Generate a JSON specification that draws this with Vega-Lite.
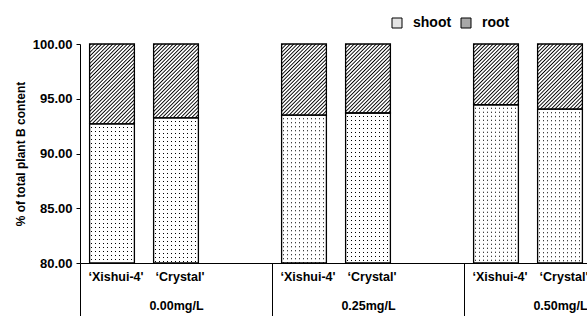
{
  "$schema": "https://vega.github.io/schema/vega-lite/v6.json",
  "width": 507,
  "height": 219,
  "autosize": {"type": "none"},
  "padding": {"left": 80, "top": 44, "right": 0, "bottom": 53},
  "background": "white",
  "config": {"view": {"stroke": null}, "font": "Liberation Sans"},
  "data": {"values": [
    {"dose": "0.00mg/L", "cultivar": "‘Xishui-4'", "shoot": 92.7, "root": 7.3},
    {"dose": "0.00mg/L", "cultivar": "‘Crystal'", "shoot": 93.25, "root": 6.75},
    {"dose": "0.25mg/L", "cultivar": "‘Xishui-4'", "shoot": 93.5, "root": 6.5},
    {"dose": "0.25mg/L", "cultivar": "‘Crystal'", "shoot": 93.7, "root": 6.3},
    {"dose": "0.50mg/L", "cultivar": "‘Xishui-4'", "shoot": 94.45, "root": 5.55},
    {"dose": "0.50mg/L", "cultivar": "‘Crystal'", "shoot": 94.05, "root": 5.95}
  ]},
  "encoding": {
    "x": {
      "field": "dose", "type": "nominal",
      "scale": {"domain": ["0.00mg/L", "0.25mg/L", "0.50mg/L"], "range": [0, 576], "paddingInner": 0, "paddingOuter": 0},
      "axis": {"title": null, "tickBand": "extent", "tickSize": 53, "tickColor": "black", "tickWidth": 1, "domainColor": "black", "domainWidth": 1, "labelPadding": -17, "labelAngle": 0, "labelFont": "Liberation Sans", "labelFontSize": 12.5, "labelFontWeight": "bold", "labelColor": "black", "grid": false}
    },
    "xOffset": {
      "field": "cultivar", "type": "nominal",
      "scale": {"domain": ["‘Xishui-4'", "‘Crystal'", "-"], "paddingInner": 0.3, "paddingOuter": 0.15}
    }
  },
  "layer": [
    {
      "mark": {"type": "bar"},
      "encoding": {
        "y": {
          "field": "shoot", "type": "quantitative",
          "scale": {"domain": [80, 100], "zero": false, "nice": false},
          "axis": {"values": [80, 85, 90, 95, 100], "format": ".2f", "title": "% of total plant B content", "titleFont": "Liberation Sans", "titleFontSize": 12, "titleFontWeight": "bold", "titleColor": "black", "titlePadding": 5, "labelFont": "Liberation Sans", "labelFontSize": 13, "labelFontWeight": "bold", "labelColor": "black", "labelPadding": 4, "tickSize": 4, "tickColor": "black", "domainColor": "black", "grid": false}
        },
        "y2": {"datum": 80},
        "fill": {
          "datum": "shoot", "type": "nominal",
          "scale": {"domain": ["shoot", "root"], "range": ["#e4e4e4", "#a8a8a8"]},
          "legend": {"orient": "none", "legendX": 310, "legendY": -28, "direction": "horizontal", "title": null, "symbolType": "square", "symbolSize": 100, "symbolStrokeColor": "black", "symbolStrokeWidth": 1, "labelFont": "Liberation Sans", "labelFontSize": 14, "labelFontWeight": "bold", "labelColor": "black", "labelOffset": 9, "columnPadding": 7}
        }
      }
    },
    {
      "mark": {"type": "bar"},
      "encoding": {
        "y": {"field": "shoot", "type": "quantitative"},
        "y2": {"datum": 80},
        "fill": {"datum": "root", "type": "nominal"}
      }
    },
    {
      "mark": {"type": "bar", "fill": {"gradient": "linear", "x1": 0, "y1": 0, "x2": 0.6153, "y2": 1.1977, "stops": [
        {"offset": 0, "color": "#fff"}, {"offset": 0.0097, "color": "#000"}, {"offset": 0.0194, "color": "#fff"},
        {"offset": 0.0278, "color": "#fff"}, {"offset": 0.0375, "color": "#000"}, {"offset": 0.0472, "color": "#fff"},
        {"offset": 0.0556, "color": "#fff"}, {"offset": 0.0653, "color": "#000"}, {"offset": 0.075, "color": "#fff"},
        {"offset": 0.0833, "color": "#fff"}, {"offset": 0.0931, "color": "#000"}, {"offset": 0.1028, "color": "#fff"},
        {"offset": 0.1111, "color": "#fff"}, {"offset": 0.1208, "color": "#000"}, {"offset": 0.1306, "color": "#fff"},
        {"offset": 0.1389, "color": "#fff"}, {"offset": 0.1486, "color": "#000"}, {"offset": 0.1583, "color": "#fff"},
        {"offset": 0.1667, "color": "#fff"}, {"offset": 0.1764, "color": "#000"}, {"offset": 0.1861, "color": "#fff"},
        {"offset": 0.1944, "color": "#fff"}, {"offset": 0.2042, "color": "#000"}, {"offset": 0.2139, "color": "#fff"},
        {"offset": 0.2222, "color": "#fff"}, {"offset": 0.2319, "color": "#000"}, {"offset": 0.2417, "color": "#fff"},
        {"offset": 0.25, "color": "#fff"}, {"offset": 0.2597, "color": "#000"}, {"offset": 0.2694, "color": "#fff"},
        {"offset": 0.2778, "color": "#fff"}, {"offset": 0.2875, "color": "#000"}, {"offset": 0.2972, "color": "#fff"},
        {"offset": 0.3056, "color": "#fff"}, {"offset": 0.3153, "color": "#000"}, {"offset": 0.325, "color": "#fff"},
        {"offset": 0.3333, "color": "#fff"}, {"offset": 0.3431, "color": "#000"}, {"offset": 0.3528, "color": "#fff"},
        {"offset": 0.3611, "color": "#fff"}, {"offset": 0.3708, "color": "#000"}, {"offset": 0.3806, "color": "#fff"},
        {"offset": 0.3889, "color": "#fff"}, {"offset": 0.3986, "color": "#000"}, {"offset": 0.4083, "color": "#fff"},
        {"offset": 0.4167, "color": "#fff"}, {"offset": 0.4264, "color": "#000"}, {"offset": 0.4361, "color": "#fff"},
        {"offset": 0.4444, "color": "#fff"}, {"offset": 0.4542, "color": "#000"}, {"offset": 0.4639, "color": "#fff"},
        {"offset": 0.4722, "color": "#fff"}, {"offset": 0.4819, "color": "#000"}, {"offset": 0.4917, "color": "#fff"},
        {"offset": 0.5, "color": "#fff"}, {"offset": 0.5097, "color": "#000"}, {"offset": 0.5194, "color": "#fff"},
        {"offset": 0.5278, "color": "#fff"}, {"offset": 0.5375, "color": "#000"}, {"offset": 0.5472, "color": "#fff"},
        {"offset": 0.5556, "color": "#fff"}, {"offset": 0.5653, "color": "#000"}, {"offset": 0.575, "color": "#fff"},
        {"offset": 0.5833, "color": "#fff"}, {"offset": 0.5931, "color": "#000"}, {"offset": 0.6028, "color": "#fff"},
        {"offset": 0.6111, "color": "#fff"}, {"offset": 0.6208, "color": "#000"}, {"offset": 0.6306, "color": "#fff"},
        {"offset": 0.6389, "color": "#fff"}, {"offset": 0.6486, "color": "#000"}, {"offset": 0.6583, "color": "#fff"},
        {"offset": 0.6667, "color": "#fff"}, {"offset": 0.6764, "color": "#000"}, {"offset": 0.6861, "color": "#fff"},
        {"offset": 0.6944, "color": "#fff"}, {"offset": 0.7042, "color": "#000"}, {"offset": 0.7139, "color": "#fff"},
        {"offset": 0.7222, "color": "#fff"}, {"offset": 0.7319, "color": "#000"}, {"offset": 0.7417, "color": "#fff"},
        {"offset": 0.75, "color": "#fff"}, {"offset": 0.7597, "color": "#000"}, {"offset": 0.7694, "color": "#fff"},
        {"offset": 0.7778, "color": "#fff"}, {"offset": 0.7875, "color": "#000"}, {"offset": 0.7972, "color": "#fff"},
        {"offset": 0.8056, "color": "#fff"}, {"offset": 0.8153, "color": "#000"}, {"offset": 0.825, "color": "#fff"},
        {"offset": 0.8333, "color": "#fff"}, {"offset": 0.8431, "color": "#000"}, {"offset": 0.8528, "color": "#fff"},
        {"offset": 0.8611, "color": "#fff"}, {"offset": 0.8708, "color": "#000"}, {"offset": 0.8806, "color": "#fff"},
        {"offset": 0.8889, "color": "#fff"}, {"offset": 0.8986, "color": "#000"}, {"offset": 0.9083, "color": "#fff"},
        {"offset": 0.9167, "color": "#fff"}, {"offset": 0.9264, "color": "#000"}, {"offset": 0.9361, "color": "#fff"},
        {"offset": 0.9444, "color": "#fff"}, {"offset": 0.9542, "color": "#000"}, {"offset": 0.9639, "color": "#fff"},
        {"offset": 0.9722, "color": "#fff"}, {"offset": 0.9819, "color": "#000"}, {"offset": 0.9917, "color": "#fff"},
        {"offset": 1, "color": "#fff"}
      ]}},
      "encoding": {
        "y": {"datum": 100, "type": "quantitative"},
        "y2": {"datum": 92}
      }
    },
    {
      "mark": {"type": "bar", "fill": {"gradient": "linear", "x1": 0, "y1": 0, "x2": 1, "y2": 0, "stops": [
        {"offset": 0, "color": "#fff"},
        {"offset": 0.0246, "color": "#fff"}, {"offset": 0.0406, "color": "#000"}, {"offset": 0.0486, "color": "#000"}, {"offset": 0.0646, "color": "#fff"},
        {"offset": 0.1139, "color": "#fff"}, {"offset": 0.1299, "color": "#000"}, {"offset": 0.1379, "color": "#000"}, {"offset": 0.1539, "color": "#fff"},
        {"offset": 0.2032, "color": "#fff"}, {"offset": 0.2192, "color": "#000"}, {"offset": 0.2272, "color": "#000"}, {"offset": 0.2432, "color": "#fff"},
        {"offset": 0.2925, "color": "#fff"}, {"offset": 0.3085, "color": "#000"}, {"offset": 0.3165, "color": "#000"}, {"offset": 0.3325, "color": "#fff"},
        {"offset": 0.3818, "color": "#fff"}, {"offset": 0.3978, "color": "#000"}, {"offset": 0.4058, "color": "#000"}, {"offset": 0.4218, "color": "#fff"},
        {"offset": 0.4711, "color": "#fff"}, {"offset": 0.4871, "color": "#000"}, {"offset": 0.4951, "color": "#000"}, {"offset": 0.5111, "color": "#fff"},
        {"offset": 0.5604, "color": "#fff"}, {"offset": 0.5764, "color": "#000"}, {"offset": 0.5844, "color": "#000"}, {"offset": 0.6004, "color": "#fff"},
        {"offset": 0.6496, "color": "#fff"}, {"offset": 0.6656, "color": "#000"}, {"offset": 0.6736, "color": "#000"}, {"offset": 0.6896, "color": "#fff"},
        {"offset": 0.7389, "color": "#fff"}, {"offset": 0.7549, "color": "#000"}, {"offset": 0.7629, "color": "#000"}, {"offset": 0.7789, "color": "#fff"},
        {"offset": 0.8282, "color": "#fff"}, {"offset": 0.8442, "color": "#000"}, {"offset": 0.8522, "color": "#000"}, {"offset": 0.8682, "color": "#fff"},
        {"offset": 0.9175, "color": "#fff"}, {"offset": 0.9335, "color": "#000"}, {"offset": 0.9415, "color": "#000"}, {"offset": 0.9575, "color": "#fff"},
        {"offset": 1, "color": "#fff"}
      ]}},
      "encoding": {
        "y": {"field": "shoot", "type": "quantitative"},
        "y2": {"datum": 80}
      }
    },
    {
      "mark": {"type": "rule", "color": "white", "strokeWidth": 45, "strokeDash": [3, 1], "strokeCap": "butt"},
      "encoding": {
        "y": {"field": "shoot", "type": "quantitative"},
        "y2": {"datum": 80}
      }
    },
    {
      "mark": {"type": "bar", "fillOpacity": 0, "stroke": "black", "strokeWidth": 1.3},
      "encoding": {
        "y": {"field": "shoot", "type": "quantitative"},
        "y2": {"datum": 80}
      }
    },
    {
      "mark": {"type": "bar", "fillOpacity": 0, "stroke": "black", "strokeWidth": 1.3},
      "encoding": {
        "y": {"field": "shoot", "type": "quantitative"},
        "y2": {"datum": 100}
      }
    },
    {
      "mark": {"type": "text", "font": "Liberation Sans", "fontSize": 12.5, "fontWeight": "bold", "color": "black", "baseline": "middle", "dy": 14, "dx": 4},
      "encoding": {
        "y": {"datum": 80, "type": "quantitative"},
        "text": {"field": "cultivar", "type": "nominal"}
      }
    }
  ]
}
